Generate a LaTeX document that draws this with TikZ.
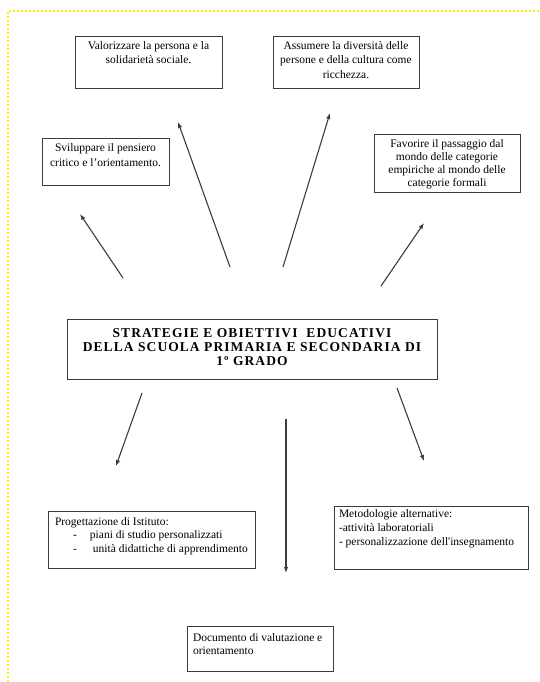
\documentclass[tikz,border=0pt]{standalone}
\usepackage{fontspec}
\setmainfont{Liberation Serif}
\usetikzlibrary{arrows.meta}
\definecolor{dotyellow}{RGB}{255,240,0}
\definecolor{linegray}{RGB}{60,60,60}
\tikzset{
  box/.style={draw=linegray, line width=0.8pt, inner sep=0pt, outer sep=0pt, anchor=north west, fill=white},
  arr/.style={draw=linegray, line width=1.1pt, -{Latex[length=6pt,width=4.5pt]}},
  border/.style={draw=dotyellow, line width=2pt, dash pattern=on 2pt off 2pt}
}
% centred box text: width, height, top gap, text
\newcommand{\cbox}[4]{\parbox[c][#2][t]{#1}{\centering\fontsize{11.5}{14.5}\selectfont\rule{0pt}{#3}#4\par}}
% left box text: width, height, top gap, left pad, text
\newcommand{\lbox}[5]{\parbox[c][#2][t]{#1}{\raggedright\leftskip=#4\fontsize{11.5}{13.8}\selectfont\rule{0pt}{#3}#5\par}}
\begin{document}
\begin{tikzpicture}[x=1pt,y=-1pt]
\useasboundingbox (0,0) rectangle (539,682);
\draw[border] (539,11) -- (8,11) -- (8,682);

\node[box] (v) at (75,36) {\cbox{147pt}{52pt}{13.5pt}{Valorizzare la persona e la\\ solidarietà sociale.}};
\node[box] (s) at (42,138) {\cbox{127pt}{47pt}{13.5pt}{Sviluppare il pensiero\\ critico e l’orientamento.}};
\node[box] (a) at (273,36) {\cbox{146pt}{52pt}{13.5pt}{Assumere la diversità delle\\ persone e della cultura come\\ ricchezza.}};
\node[box] (f) at (374,134) {\parbox[c][58pt][t]{146pt}{\centering\fontsize{11.5}{13.3}\selectfont\rule{0pt}{13pt}Favorire il passaggio dal\\ mondo delle categorie\\ empiriche al mondo delle\\ categorie formali\par}};

\node[box] (c) at (67,319) {\parbox[c][60pt][t]{370pt}{\centering\fontsize{13.5}{14}\selectfont\bfseries\addfontfeature{LetterSpace=8}\rule{0pt}{18pt}STRATEGIE E OBIETTIVI \ EDUCATIVI\\ DELLA SCUOLA PRIMARIA E SECONDARIA DI\\ 1º GRADO\par}};

\node[box] (p) at (48,511) {\lbox{207pt}{57pt}{14pt}{7pt}{Progettazione di Istituto:\\ \hspace*{18pt}\makebox[17pt][l]{-}piani di studio personalizzati\\ \hspace*{18pt}\makebox[20pt][l]{-}unità didattiche di apprendimento}};
\node[box] (m) at (334,506) {\lbox{194pt}{63pt}{11.5pt}{5pt}{Metodologie alternative:\\ -attività laboratoriali\\ - personalizzazione dell\textquotesingle insegnamento}};
\node[box] (d) at (187,626) {\lbox{146pt}{45pt}{15pt}{6pt}{Documento di valutazione e\\ orientamento}};

\coordinate (v0) at (230,267); \coordinate (v1) at (178,122);
\coordinate (s0) at (123,278); \coordinate (s1) at (80,214);
\coordinate (a0) at (283,267); \coordinate (a1) at (330,113);
\coordinate (f0) at (381,286); \coordinate (f1) at (424,223);
\coordinate (p0) at (142,393); \coordinate (p1) at (116,466);
\coordinate (d0) at (286,419); \coordinate (d1) at (286,573);
\coordinate (m0) at (397,388); \coordinate (m1) at (424,461);

\draw[arr] (v0) -- (v1);
\draw[arr] (s0) -- (s1);
\draw[arr] (a0) -- (a1);
\draw[arr] (f0) -- (f1);
\draw[arr] (p0) -- (p1);
\draw[arr] (d0) -- (d1);
\draw[arr] (m0) -- (m1);
\end{tikzpicture}
\end{document}
